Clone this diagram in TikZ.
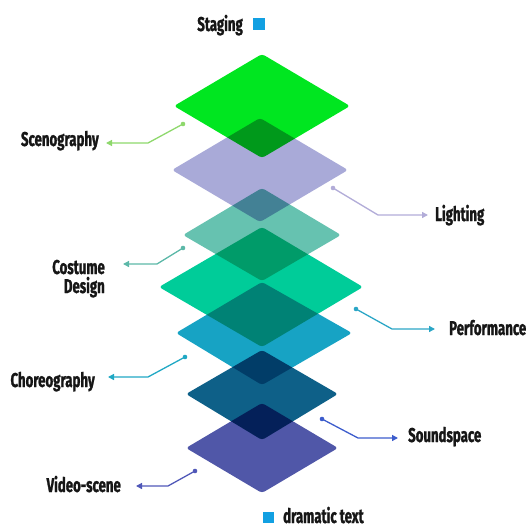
\documentclass[tikz,border=0pt]{standalone}
\usepackage{fontspec}
\setmainfont{Fira Sans}[FakeStretch=0.66, BoldFeatures={FakeBold=1.2}]
\usetikzlibrary{arrows.meta}
\definecolor{cA}{HTML}{00E620}
\definecolor{cB}{HTML}{A9AAD8}
\definecolor{cC}{HTML}{66C2B0}
\definecolor{cD}{HTML}{00CC99}
\definecolor{cE}{HTML}{17A3C4}
\definecolor{cF}{HTML}{0E6088}
\definecolor{cG}{HTML}{5057A8}
\definecolor{aA}{HTML}{8ED86C}
\definecolor{aB}{HTML}{B2ACD8}
\definecolor{aC}{HTML}{5CB8A8}
\definecolor{aD}{HTML}{2BA6C6}
\definecolor{aE}{HTML}{20A8C4}
\definecolor{aF}{HTML}{3C5CCC}
\definecolor{aG}{HTML}{5058B8}
\definecolor{sq}{HTML}{12A0E2}
\definecolor{ink}{HTML}{161616}
\tikzset{
  layer/.style={fill=#1, blend mode=multiply, rounded corners=3pt},
  lab/.style={font=\fontsize{20}{19}\selectfont\bfseries, text=ink, inner sep=0pt},
  conn/.style={draw=#1, line width=1.3pt, -{Triangle[length=6pt,width=6pt]}},
}
\begin{document}
\begin{tikzpicture}[x=1pt,y=-1pt]
\useasboundingbox (0,0) rectangle (528,527);
% layers
\fill[layer=cA] (262,54) -- (350,106) -- (262,158) -- (174,106) -- cycle;
\fill[layer=cB] (260,118) -- (348,170) -- (260,222) -- (172,170) -- cycle;
\fill[layer=cC] (262,188) -- (341,235) -- (262,281) -- (183,235) -- cycle;
\fill[layer=cD] (262,227) -- (363,287) -- (262,347) -- (159,287) -- cycle;
\fill[layer=cE] (262,282) -- (352,333) -- (262,385) -- (176,333) -- cycle;
\fill[layer=cF] (262,350) -- (338,394) -- (262,440) -- (186,394) -- cycle;
\fill[layer=cG] (262,403) -- (338,448) -- (262,493) -- (186,448) -- cycle;
% labels
\node[lab, anchor=base east] (staging) at (243,31) {Staging};
\node[fill=sq, minimum size=12pt, inner sep=0pt] (sqA) at (259,24) {};
\node[lab, anchor=base east] (scen) at (99,146) {Scenography};
\node[lab, anchor=base west] (light) at (435,221) {Lighting};
\node[lab, anchor=base east, align=right] (cost) at (105,293) {Costume\\Design};
\node[lab, anchor=base west] (perf) at (449,335) {Performance};
\node[lab, anchor=base east] (chor) at (95,387) {Choreography};
\node[lab, anchor=base west] (sound) at (408,442) {Soundspace};
\node[lab, anchor=base east] (video) at (121,492) {Video-scene};
\node[fill=sq, minimum size=11pt, inner sep=0pt] (sqB) at (268,517) {};
\node[lab, anchor=base west] (drama) at (283,523) {dramatic text};
% connector points
\coordinate (pA) at (183,124); \coordinate (bA) at (148,143); \coordinate (tA) at (106,143);
\coordinate (pB) at (333,188); \coordinate (bB) at (378,215); \coordinate (tB) at (428,215);
\coordinate (pC) at (183,248); \coordinate (bC) at (157,264); \coordinate (tC) at (123,264);
\coordinate (pD) at (356,309); \coordinate (bD) at (392,329); \coordinate (tD) at (435,329);
\coordinate (pE) at (185,357); \coordinate (bE) at (148,377); \coordinate (tE) at (108,377);
\coordinate (pF) at (322,419); \coordinate (bF) at (358,438); \coordinate (tF) at (398,438);
\coordinate (pG) at (195,471); \coordinate (bG) at (168,486); \coordinate (tG) at (136,486);
\foreach \k/\c in {A/aA,B/aB,C/aC,D/aD,E/aE,F/aF,G/aG}{
  \draw[conn=\c] (p\k) -- (b\k) -- (t\k);
  \fill[\c] (p\k) circle (2.3pt);
}
\end{tikzpicture}
\end{document}
